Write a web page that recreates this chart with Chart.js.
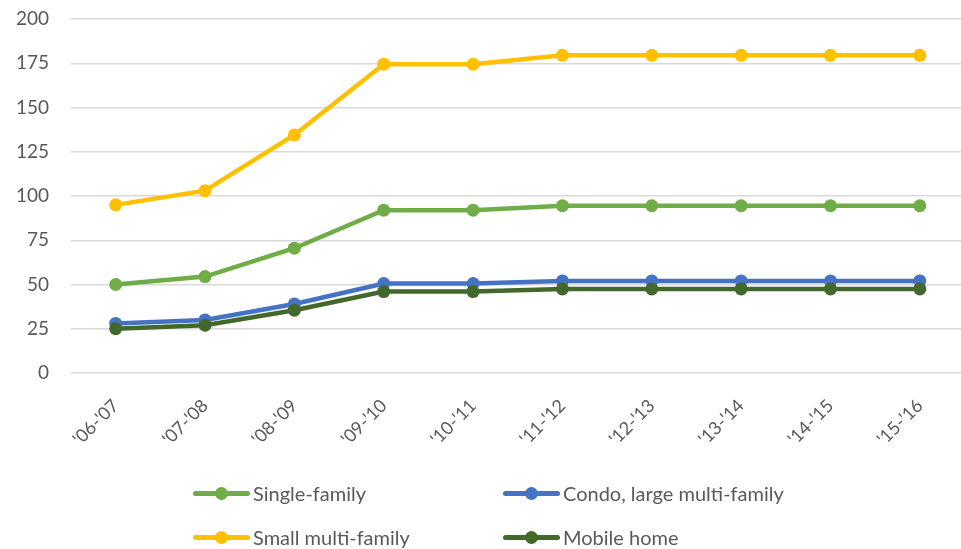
<!DOCTYPE html>
<html>
<head>
<meta charset="utf-8">
<script src="https://cdn.jsdelivr.net/npm/chart.js@4.4.0/dist/chart.umd.min.js"></script>
<style>
    html, body { margin: 0; background: #fff; overflow: hidden; }
    #wrap { position: relative; width: 971px; height: 549px; }
    #lineChart { display: block; width: 971px; height: 549px; }
    #legend {
        position: absolute; left: 193px; top: 478px; width: 720px;
        display: grid; grid-template-columns: 310px 320px; row-gap: 14px;
        font-family: Lato, sans-serif; font-size: 20px; color: #595959;
    }
    .item { display: flex; align-items: center; height: 30px; white-space: nowrap; }
    .mark { position: relative; width: 57px; height: 5px; margin-right: 3px; border-radius: 3px; }
    .mark span { position: absolute; left: 22px; top: -4px; width: 13px; height: 13px; border-radius: 50%; }
</style>
</head>
<body>
<div id="wrap">
    <canvas id="lineChart" width="971" height="549"></canvas>
    <div id="legend"></div>
</div>
<script>
// Data
const labels = ["'06-'07", "'07-'08", "'08-'09", "'09-'10", "'10-'11", "'11-'12", "'12-'13", "'13-'14", "'14-'15", "'15-'16"];
const singleFamily = [50, 54.5, 70.5, 92, 92, 94.5, 94.5, 94.5, 94.5, 94.5];
const condoLarge = [28, 30, 39, 50.5, 50.5, 52, 52, 52, 52, 52];
const smallMulti = [95, 103, 134.5, 174.5, 174.5, 179.5, 179.5, 179.5, 179.5, 179.5];
const mobileHome = [25, 27, 35.5, 46, 46, 47.5, 47.5, 47.5, 47.5, 47.5];
const yTicks = [0, 25, 50, 75, 100, 125, 150, 175, 200];

const seriesNames = ["Single-family", "Condo, large multi-family", "Small multi-family", "Mobile home"];
const seriesColors = ["#70AD47", "#4472C4", "#FFC000", "#43682B"];
const seriesData = [singleFamily, condoLarge, smallMulti, mobileHome];

const fontFamily = "Lato, sans-serif";

function makeDataset(i) {
    return {
        label: seriesNames[i],
        data: seriesData[i],
        borderColor: seriesColors[i],
        backgroundColor: seriesColors[i],
        pointBackgroundColor: seriesColors[i],
        pointBorderColor: seriesColors[i],
        borderWidth: 4.5,
        pointRadius: 6.5,
        pointBorderWidth: 0,
        tension: 0,
        order: 3 - i   // later series drawn on top, like Excel
    };
}

const ctx = document.getElementById("lineChart").getContext("2d");
const lineChart = new Chart(ctx, {
    type: "line",
    data: {
        labels: labels,
        datasets: seriesNames.map((n, i) => makeDataset(i))
    },
    options: {
        responsive: false,
        animation: false,
        layout: { padding: { left: 0, right: -9, top: 19, bottom: 96 } },
        plugins: {
            legend: { display: false },
            tooltip: { enabled: false }
        },
        scales: {
            x: {
                offset: true,
                grid: { display: false },
                border: { display: false },
                ticks: {
                    minRotation: 45, maxRotation: 45,
                    padding: 14,
                    color: "#595959",
                    font: { family: fontFamily, size: 18 }
                },
                afterFit(scale) {
                    scale.height = 80;
                    scale.paddingLeft = 0;
                    scale.paddingRight = 0;
                }
            },
            y: {
                min: 0, max: 200,
                afterBuildTicks(scale) { scale.ticks = yTicks.map(v => ({ value: v })); },
                grid: { color: "#D9D9D9", lineWidth: 1.5, drawTicks: false },
                border: { display: false },
                ticks: {
                    padding: 22,
                    color: "#595959",
                    font: { family: fontFamily, size: 19 }
                },
                afterFit(scale) {
                    scale.width = 71;
                    scale.paddingTop = 0;
                    scale.paddingBottom = 0;
                }
            }
        }
    }
});

// HTML legend, two columns
const legendBox = document.getElementById("legend");
seriesNames.forEach((name, i) => {
    const item = document.createElement("div");
    item.className = "item";
    item.innerHTML = `<div class="mark" style="background:${seriesColors[i]}"><span style="background:${seriesColors[i]}"></span></div>${name}`;
    legendBox.appendChild(item);
});
</script>
</body>
</html>
